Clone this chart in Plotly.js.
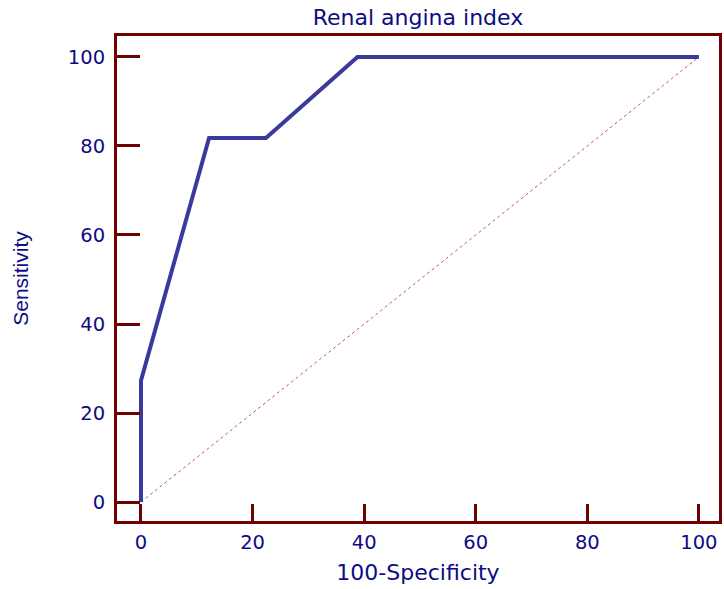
<!DOCTYPE html>
<html>
<head>
<meta charset="utf-8">
<script src="https://cdn.plot.ly/plotly-3.0.1.min.js"></script>
<style>html,body{margin:0;padding:0;background:#fff;}#chart{width:724px;height:589px;}</style>
</head>
<body>
<div id="chart"></div>
<script>
const rocX = [0, 0, 12.2, 22.4, 38.8, 100];
const rocY = [0, 27.3, 81.8, 81.8, 100, 100];
const diagX = [0, 100];
const diagY = [0, 100];
const xTicks = [0, 20, 40, 60, 80, 100];
const yTicks = [0, 20, 40, 60, 80, 100];

const navy = '#0c0c84';
const maroon = '#6e0000';
const wideFont = 'DejaVu Sans, Verdana, sans-serif';
const narrowFont = 'Liberation Sans, Arial, sans-serif';

const traces = [
  {x: diagX, y: diagY, mode: 'lines', line: {color: '#c85a5a', width: 1, dash: 'dot'}, hoverinfo: 'skip'},
  {x: rocX, y: rocY, mode: 'lines', line: {color: '#3a3a9e', width: 4}}
];

const axisCommon = {
  showgrid: false, zeroline: false, showline: true, mirror: true,
  linecolor: maroon, linewidth: 3, ticks: 'inside',
  tickcolor: maroon, tickwidth: 3,
  tickfont: {family: wideFont, size: 19.5, color: navy}
};

const layout = {
  width: 724, height: 589,
  margin: {l: 117, r: 5, t: 36, b: 68},
  showlegend: false,
  paper_bgcolor: '#fff', plot_bgcolor: '#fff',
  title: {text: 'Renal angina index', font: {family: wideFont, size: 22, color: navy}, x: 0.5, xref: 'paper', y: 0.97, yref: 'container', yanchor: 'middle'},
  xaxis: Object.assign({}, axisCommon, {
    range: [-4.3, 103.6], tickvals: xTicks, ticktext: xTicks.map(String), ticklen: 17,
    ticklabelstandoff: 2,
    title: {text: '100-Specificity', font: {family: wideFont, size: 22, color: navy}, standoff: 12}
  }),
  yaxis: Object.assign({}, axisCommon, {
    range: [-4.25, 104.7], tickvals: yTicks, ticktext: yTicks.map(String), ticklen: 23,
    ticklabelstandoff: 5,
    title: {text: 'Sensitivity', font: {family: narrowFont, size: 21, color: navy}, standoff: 34}
  })
};

Plotly.newPlot('chart', traces, layout, {displayModeBar: false, staticPlot: true});
</script>
</body>
</html>
